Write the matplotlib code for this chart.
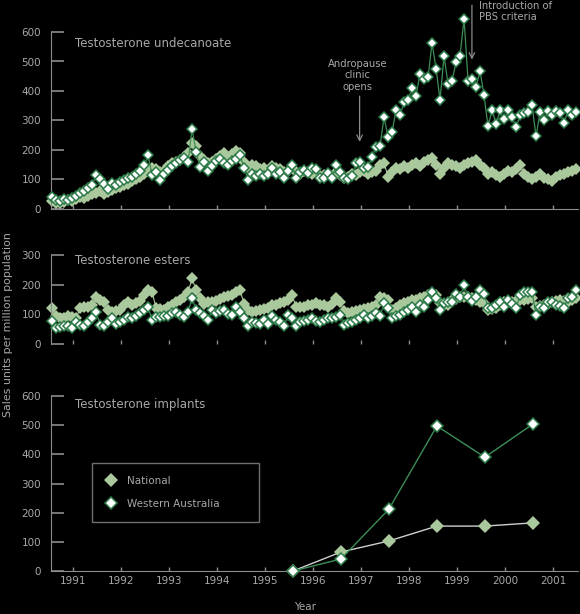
import numpy as np
import matplotlib
matplotlib.use('Agg')
import matplotlib.pyplot as plt

# monthly sales, units per million population (Jul 1990 - Jun 2001)
start_year = 1990.5625
undec_national = [28, 22, 20, 25, 30, 28, 35, 40, 38, 45, 50, 55,
                  60, 52, 58, 65, 70, 75, 80, 85, 95, 100, 110, 120,
                  130, 140, 135, 125, 130, 145, 155, 160, 165, 175, 190, 225,
                  215, 180, 165, 155, 160, 170, 180, 190, 175, 185, 195, 190,
                  160, 140, 150, 145, 135, 140, 130, 145, 140, 135, 125, 130,
                  140, 125, 120, 130, 125, 120, 125, 110, 115, 120, 110, 125,
                  115, 105, 110, 120, 115, 125, 130, 120, 125, 130, 150, 155,
                  110, 125, 140, 135, 145, 140, 150, 155, 145, 160, 165, 172,
                  150, 120, 140, 155, 150, 145, 140, 150, 155, 160, 165, 150,
                  140, 118, 125, 115, 110, 120, 130, 125, 135, 150, 120, 110,
                  100, 110, 120, 105, 100, 95, 110, 115, 120, 125, 130, 135]
undec_wa = [41, 30, 28, 35, 30, 38, 45, 54, 62, 70, 81, 115,
            101, 85, 67, 87, 81, 92, 98, 105, 110, 118, 128, 148,
            182, 115, 125, 98, 118, 132, 145, 155, 166, 172, 160, 272,
            193, 142, 160, 130, 145, 162, 170, 155, 150, 162, 170, 182,
            140, 98, 118, 112, 120, 112, 118, 138, 118, 127, 105, 130,
            148, 105, 127, 132, 122, 138, 135, 105, 105, 122, 105, 148,
            127, 105, 100, 113, 155, 160, 138, 143, 177, 211, 215, 311,
            244, 261, 334, 318, 362, 368, 411, 383, 459, 442, 447, 563,
            475, 371, 518, 424, 435, 498, 520, 644, 435, 439, 415, 467,
            385, 280, 337, 287, 334, 304, 334, 311, 277, 318, 324, 328,
            351, 247, 328, 301, 331, 318, 331, 324, 291, 334, 318, 328]
esters_national = [121, 95, 87, 88, 94, 90, 87, 121, 125, 125, 130, 159,
                   150, 140, 115, 108, 110, 115, 130, 140, 130, 138, 146, 165,
                   182, 176, 121, 118, 115, 125, 130, 140, 150, 159, 175, 221,
                   182, 155, 135, 140, 140, 146, 152, 159, 162, 165, 176, 182,
                   135, 115, 108, 112, 115, 118, 121, 130, 132, 138, 140, 150,
                   165, 125, 125, 125, 130, 132, 138, 130, 130, 125, 135, 155,
                   142, 110, 104, 108, 112, 115, 118, 121, 125, 130, 159, 155,
                   148, 115, 121, 130, 138, 142, 148, 150, 155, 160, 165, 165,
                   165, 138, 132, 130, 148, 152, 159, 159, 159, 155, 148, 142,
                   138, 115, 118, 121, 130, 142, 142, 142, 145, 148, 150, 152,
                   155, 125, 128, 130, 135, 142, 145, 148, 145, 142, 148, 155]
esters_wa = [78, 54, 56, 61, 60, 54, 74, 65, 61, 74, 87, 108,
             65, 61, 74, 87, 67, 75, 81, 91, 87, 94, 104, 115,
             125, 81, 91, 91, 94, 94, 104, 108, 98, 91, 108, 155,
             115, 104, 95, 81, 115, 104, 110, 115, 100, 98, 125, 108,
             87, 61, 74, 70, 67, 81, 67, 94, 80, 74, 61, 98,
             87, 61, 74, 78, 81, 87, 78, 74, 81, 87, 87, 92,
             98, 65, 70, 75, 81, 87, 98, 87, 95, 104, 94, 138,
             120, 87, 95, 98, 108, 115, 125, 108, 130, 125, 150, 176,
             155, 115, 138, 140, 142, 170, 159, 199, 159, 146, 160, 182,
             170, 121, 121, 130, 142, 125, 148, 135, 121, 165, 176, 176,
             176, 98, 125, 121, 142, 142, 130, 128, 121, 155, 159, 182]

# yearly implant sales
implant_years = [1995.58, 1996.58, 1997.58, 1998.58, 1999.58, 2000.58]
implant_national = [0, 65, 103, 154, 154, 165]
implant_wa = [0, 41, 212, 497, 390, 504]

years = [1991, 1992, 1993, 1994, 1995, 1996, 1997, 1998, 1999, 2000, 2001]

months = start_year + np.arange(len(undec_wa)) / 12.0

BG = 'black'
TXT = '#a8a8a8'
AX = '#8c8c8c'
NAT = '#a9c89c'
WA_EDGE = '#2b7a47'
WA_LINE = '#3d8e58'

plt.rcParams['font.family'] = 'DejaVu Sans'

fig = plt.figure(figsize=(5.8, 6.14), dpi=100, facecolor=BG)
L, W = 51 / 580, 527 / 580
ax1 = fig.add_axes([L, 1 - 209 / 614, W, 177 / 614])
ax2 = fig.add_axes([L, 1 - 344 / 614, W, 89 / 614])
ax3 = fig.add_axes([L, 1 - 571 / 614, W, 175 / 614])


def style(ax, ymax, step, labels_x, show_bottom=True):
    ax.set_facecolor(BG)
    ax.set_xlim(1990.54, 2001.52)
    ax.set_ylim(0, ymax)
    for s in ['top', 'right']:
        ax.spines[s].set_visible(False)
    ax.spines['left'].set_color(AX)
    ax.spines['bottom'].set_color(AX)
    ax.spines['bottom'].set_visible(show_bottom)
    ax.set_yticks(np.arange(0, ymax + 1, step))
    ax.set_xticks(years)
    ax.tick_params(axis='y', direction='in', length=9, width=1.2, color=AX,
                   labelcolor=TXT, labelsize=7.5, pad=7)
    ax.tick_params(axis='x', direction='in', length=3, width=1, color=AX,
                   labelcolor=TXT, labelsize=7.5, labelbottom=labels_x)


def monthly(ax, nat, wa):
    ax.plot(months, nat, color=NAT, lw=0.8, marker='D', ms=6.5,
            mfc=NAT, mec=NAT, mew=0, clip_on=False, zorder=2)
    ax.plot(months, wa, color=WA_LINE, lw=0.9, marker='D', ms=5.2,
            mfc='white', mec=WA_EDGE, mew=1.1, clip_on=False, zorder=3)


monthly(ax1, undec_national, undec_wa)
style(ax1, 600, 100, False)
ax1.text(1991.05, 560, 'Testosterone undecanoate', color=TXT, fontsize=8.5,
         va='center')
ax1.annotate('', xy=(1996.97, 218), xytext=(1996.97, 392),
             arrowprops=dict(arrowstyle='->', color=AX, lw=0.9), annotation_clip=False)
ax1.text(1996.93, 398, 'Andropause\nclinic\nopens', color=TXT, fontsize=7.2,
         ha='center', va='bottom', linespacing=1.15)
ax1.annotate('', xy=(1999.31, 497), xytext=(1999.31, 700),
             arrowprops=dict(arrowstyle='->', color=AX, lw=0.9), annotation_clip=False)
ax1.text(1999.46, 706, 'Introduction of\nPBS criteria', color=TXT, fontsize=7.2,
         ha='left', va='top', linespacing=1.1)

monthly(ax2, esters_national, esters_wa)
style(ax2, 300, 100, False, show_bottom=False)
ax2.text(1991.05, 283, 'Testosterone esters', color=TXT, fontsize=8.5,
         va='center')

ax3.plot(implant_years, implant_national, color='#cfcfcf', lw=1.0, marker='D',
         ms=7, mfc=NAT, mec=NAT, mew=0, clip_on=False, zorder=2, label='National')
ax3.plot(implant_years, implant_wa, color=WA_LINE, lw=1.0, marker='D', ms=6,
         mfc='white', mec=WA_EDGE, mew=1.1, clip_on=False, zorder=3,
         label='Western Australia')
style(ax3, 600, 100, True)
ax3.text(1991.05, 570, 'Testosterone implants', color=TXT, fontsize=8.5,
         va='center')
leg = ax3.legend(loc='upper left', bbox_to_anchor=(41 / 527, 0.286, 167 / 527, 0.331),
                 mode='expand', frameon=True, fancybox=False, facecolor=BG,
                 edgecolor=AX, fontsize=7.5, labelcolor=TXT, handlelength=1.2,
                 borderpad=1.2, labelspacing=1.3, handletextpad=1.0, borderaxespad=0)
for h in leg.legend_handles:
    h.set_linestyle('')

fig.text(8 / 580, 1 - 325 / 614, 'Sales units per million population', color=TXT,
         fontsize=7.9, rotation=90, ha='center', va='center')
fig.text(305 / 580, 1 - 607 / 614, 'Year', color=TXT, fontsize=7.5,
         ha='center', va='center')

fig.savefig('out.png', dpi=100, facecolor=BG)
